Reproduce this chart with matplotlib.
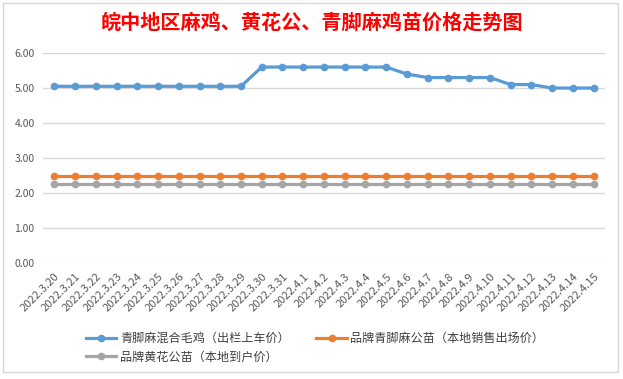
import matplotlib.pyplot as plt
import matplotlib.patches as patches

plt.rcParams['font.family'] = ['Noto Sans CJK SC', 'DejaVu Sans']

dates = ['2022.3.20', '2022.3.21', '2022.3.22', '2022.3.23', '2022.3.24', '2022.3.25',
         '2022.3.26', '2022.3.27', '2022.3.28', '2022.3.29', '2022.3.30', '2022.3.31',
         '2022.4.1', '2022.4.2', '2022.4.3', '2022.4.4', '2022.4.5', '2022.4.6',
         '2022.4.7', '2022.4.8', '2022.4.9', '2022.4.10', '2022.4.11', '2022.4.12',
         '2022.4.13', '2022.4.14', '2022.4.15']
maoji = [5.05] * 10 + [5.6] * 7 + [5.4] + [5.3] * 4 + [5.1] * 2 + [5.0] * 3
qingjiao = [2.5] * 27
huanghua = [2.25] * 27

fig = plt.figure(figsize=(6.23, 3.79), dpi=100)
ax = fig.add_axes([0.069, 0.306, 0.902, 0.554])

x = range(len(dates))
l1, = ax.plot(x, maoji, color='#5B9BD5', lw=2.3, marker='o', ms=4.5, label='青脚麻混合毛鸡（出栏上车价）')
l2, = ax.plot(x, qingjiao, color='#ED7D31', lw=2.3, marker='o', ms=4.5, label='品牌青脚麻公苗（本地销售出场价）')
l3, = ax.plot(x, huanghua, color='#A5A5A5', lw=2.3, marker='o', ms=4.5, label='品牌黄花公苗（本地到户价）')

ax.set_ylim(0, 6)
ax.set_xlim(-0.55, 26.55)
ax.set_yticks([0, 1, 2, 3, 4, 5, 6])
ax.set_yticklabels(['%.2f' % v for v in [0, 1, 2, 3, 4, 5, 6]])
ax.set_xticks(list(x))
ax.set_xticklabels(dates, rotation=45, ha='right', rotation_mode='anchor')
ax.tick_params(axis='both', length=0, colors='#595959')
ax.tick_params(axis='y', labelsize=7.5, pad=6)
ax.tick_params(axis='x', labelsize=8, pad=6)
ax.grid(axis='y', color='#D9D9D9', lw=1)
ax.set_axisbelow(True)
for s in ax.spines.values():
    s.set_visible(False)

fig.text(0.5, 0.942, '皖中地区麻鸡、黄花公、青脚麻鸡苗价格走势图', color='#FF0000',
         fontsize=14.5, fontweight='bold', ha='center', va='center')

fig.legend([l1, l3, l2], [l1.get_label(), l3.get_label(), l2.get_label()],
           ncol=2, loc='center', bbox_to_anchor=(0.506, 0.082), frameon=False,
           fontsize=8.7, labelcolor='#404040', handlelength=2.5, columnspacing=2.2,
           labelspacing=0.45, handletextpad=0.3)

fig.patches.append(patches.Rectangle((0.005, 0.018), 0.987, 0.974, transform=fig.transFigure,
                                     fill=False, edgecolor='#D9D9D9', lw=1))

fig.savefig('out.png', dpi=100)
